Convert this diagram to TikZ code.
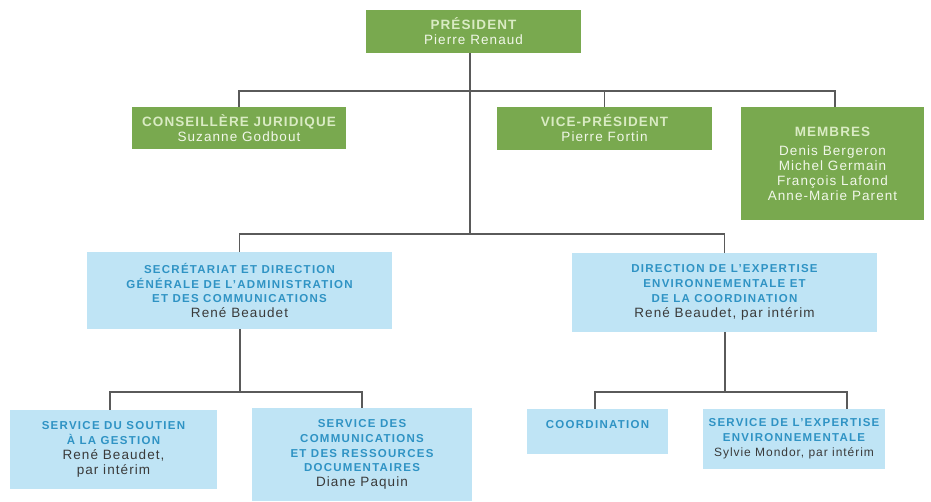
\documentclass[tikz,border=0pt]{standalone}
\usepackage{fontspec}
\setmainfont{Liberation Sans}
\newfontfamily\tfontA{Liberation Sans}[LetterSpace=11]
\newfontfamily\tfontG{Liberation Sans}[LetterSpace=8]
\newfontfamily\nfont{Liberation Sans}[LetterSpace=8]
\definecolor{gfill}{HTML}{79A94F}
\definecolor{gtitle}{HTML}{D9EBC3}
\definecolor{gname}{HTML}{F1F7E9}
\definecolor{bfill}{HTML}{BFE4F5}
\definecolor{btitle}{HTML}{2F93C4}
\definecolor{bname}{HTML}{3A3A3A}
\definecolor{linec}{HTML}{5A5A5A}
\newcommand\bt[1]{{\tfontA\bfseries\fontsize{11.5}{14.8}\selectfont\color{btitle}#1}}
\newcommand\bn[1]{{\nfont\fontsize{13.5}{14.8}\selectfont\color{bname}#1}}
\newcommand\gt[1]{{\tfontG\bfseries\fontsize{13.5}{15}\selectfont\color{gtitle}#1}}
\newcommand\gn[1]{{\nfont\fontsize{13.5}{15}\selectfont\color{gname}#1}}
\tikzset{
  gbox/.style={fill=gfill, draw=none, inner sep=0pt, align=center, font=\fontsize{13.5}{15}\selectfont},
  bbox/.style={fill=bfill, draw=none, inner sep=0pt, align=center, font=\fontsize{13.5}{14.8}\selectfont},
  conn/.style={draw=linec, line width=1.1pt}
}
\begin{document}
\begin{tikzpicture}[x=1pt,y=-1pt]
\useasboundingbox (0,0) rectangle (931,501);
% green boxes
\node[gbox, minimum width=215pt, minimum height=43pt] (pres) at (473.5,31.5)
  {\gt{PRÉSIDENT}\\\gn{Pierre Renaud}};
\node[gbox, minimum width=214pt, minimum height=42pt] (cj) at (239,128)
  {\gt{CONSEILLÈRE JURIDIQUE}\\\gn{Suzanne Godbout}};
\node[gbox, minimum width=215pt, minimum height=43pt] (vp) at (604.5,128.5)
  {\gt{VICE-PRÉSIDENT}\\\gn{Pierre Fortin}};
\node[gbox, minimum width=183pt, minimum height=113pt] (mem) at (832.5,163.5)
  {\gt{MEMBRES}\\[4pt]\gn{Denis Bergeron}\\\gn{Michel Germain}\\\gn{François Lafond}\\\gn{Anne-Marie Parent}};
% blue boxes
\node[bbox, minimum width=305pt, minimum height=77pt] (sec) at (239.5,290.5)
  {\bt{SECRÉTARIAT ET DIRECTION}\\\bt{GÉNÉRALE DE L’ADMINISTRATION}\\\bt{ET DES COMMUNICATIONS}\\\bn{René Beaudet}};
\node[bbox, minimum width=305pt, minimum height=79pt] (dir) at (724.5,292.5)
  {\bt{DIRECTION DE L’EXPERTISE}\\\bt{ENVIRONNEMENTALE ET}\\\bt{DE LA COORDINATION}\\\bn{René Beaudet, par intérim}};
\node[bbox, minimum width=207pt, minimum height=79pt] (sout) at (113.5,449.5)
  {\bt{SERVICE DU SOUTIEN}\\\bt{À LA GESTION}\\\bn{René Beaudet,}\\\bn{par intérim}};
\node[bbox, minimum width=220pt, minimum height=93pt] (comm) at (362,454.5)
  {\bt{SERVICE DES}\\\bt{COMMUNICATIONS}\\\bt{ET DES RESSOURCES}\\\bt{DOCUMENTAIRES}\\\bn{Diane Paquin}};
\node[bbox, minimum width=141pt, minimum height=45pt] (coord) at (597.5,431.5) {};
\node[inner sep=0pt] (coordt) at (597.5,424.5) {\bt{COORDINATION}};
\node[bbox, minimum width=182pt, minimum height=60pt] (exp) at (794,439)
  {\bt{SERVICE DE L’EXPERTISE}\\\bt{ENVIRONNEMENTALE}\\{\nfont\fontsize{12}{14.8}\selectfont\color{bname}Sylvie Mondor, par intérim}};
% junction coordinates
\coordinate (s1) at (470,91);
\coordinate (s2) at (470,234);
\coordinate (xm) at (835,0);
\coordinate (s3) at (240,392);
\coordinate (xs) at (110,0);
\coordinate (s4) at (725,392);
\coordinate (xc) at (595,0);
\coordinate (xe) at (847,0);
% connectors
\draw[conn] (pres.south -| s1) -- (s2);
\draw[conn] (cj.north) |- (s1) -| (mem.north -| xm);
\draw[conn] (vp.north) -- (vp.north |- s1);
\draw[conn] (sec.north) |- (s2) -| (dir.north);
\draw[conn] (sec.south -| s3) -- (s3);
\draw[conn] (sout.north -| xs) |- (s3) -| (comm.north);
\draw[conn] (dir.south -| s4) -- (s4);
\draw[conn] (coord.north -| xc) |- (s4) -| (exp.north -| xe);
\end{tikzpicture}
\end{document}
